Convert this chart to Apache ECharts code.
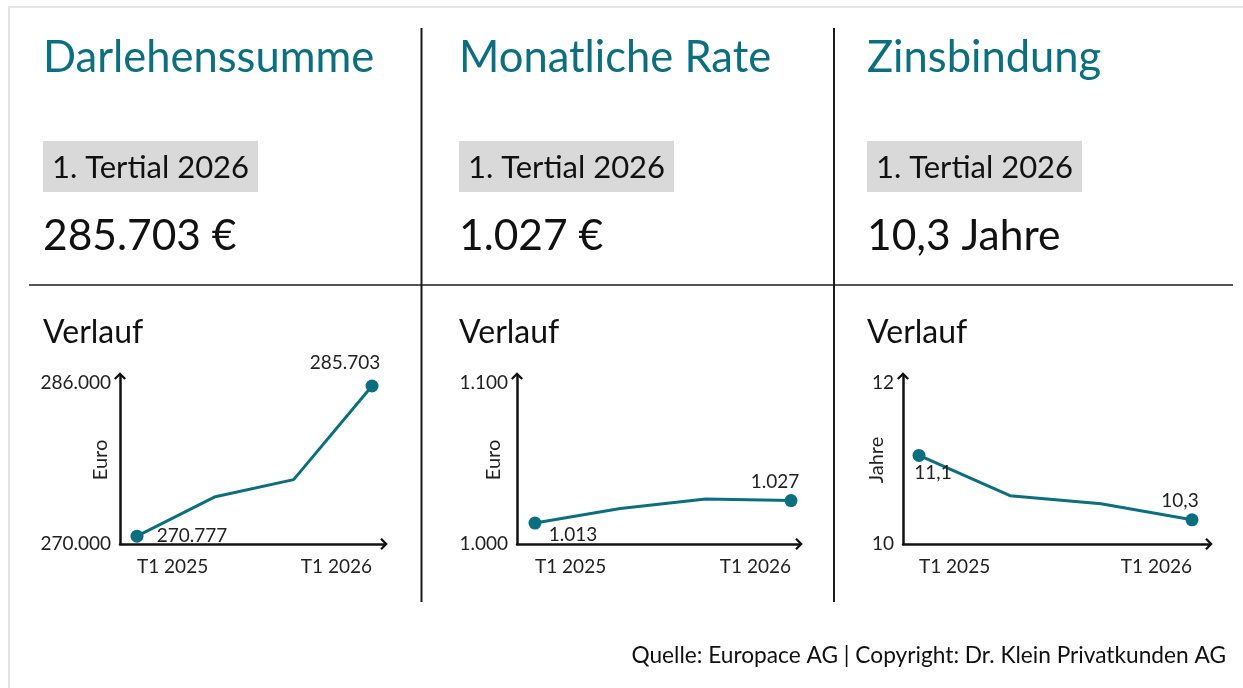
<!DOCTYPE html>
<html>
<head>
<meta charset="utf-8">
<title>Trendindikator Baufinanzierung</title>
<script src="https://cdn.jsdelivr.net/npm/echarts@6.0.0/dist/echarts.min.js"></script>
<style>
  html, body { margin: 0; padding: 0; background: #fff; }
  #main { width: 1243px; height: 688px; }
</style>
</head>
<body>
<div id="main"></div>
<script>
// --- data ---
var categories = ['T1 2025', 'T2 2025', 'T3 2025', 'T1 2026'];
var darlehenssumme = [270777, 274700, 276400, 285703];
var monatlicheRate = [1013, 1022, 1028, 1027];
var zinsbindung = [11.1, 10.6, 10.5, 10.3];

var panelTitles = ['Darlehenssumme', 'Monatliche Rate', 'Zinsbindung'];
var currentValues = ['285.703 €', '1.027 €', '10,3 Jahre'];
var periodLabel = '1. Tertial 2026';
var historyLabel = 'Verlauf';
var axisNames = ['Euro', 'Euro', 'Jahre'];
var yAxisTicks = [[270000, 286000], [1000, 1100], [10, 12]];
var sourceText = 'Quelle: Europace AG | Copyright: Dr. Klein Privatkunden AG';

// --- layout ---
var teal = '#0b6f7f';
var font = 'Lato, "Noto Sans", sans-serif';

var panels = [
  { values: darlehenssumme, decimals: 0, left: 43, axisX: 120, firstX: 137, lastX: 372, endX: 384, nameGap: 9,
    labelOffsets: [[55, 0], [-27, -23]] },
  { values: monatlicheRate, decimals: 0, left: 459, axisX: 517, firstX: 535, lastX: 791, endX: 799, nameGap: 13,
    labelOffsets: [[38, 12], [-16, -19]] },
  { values: zinsbindung, decimals: 1, left: 867, axisX: 903, firstX: 919, lastX: 1192, endX: 1209, nameGap: 16,
    labelOffsets: [[14, 17], [-12, -19]] }
];

var gridTop = 376;      // end of y axis line
var tickTop = 383;      // position of upper tick label
var gridBottom = 544;   // x axis line

var arrow = 'path://M6,0 L12,6 L10.4,7.6 L6,3.2 L1.6,7.6 L0,6 Z';

function fmt(v, dec) {
  var parts = Number(v).toFixed(dec).split('.');
  var intPart = parts[0].replace(/\B(?=(\d{3})+(?!\d))/g, '.');
  return dec ? intPart + ',' + parts[1] : intPart;
}

var grids = [], xAxes = [], yAxes = [], series = [], graphics = [];

// frame and separators
graphics.push({ type: 'rect', shape: { x: 9, y: 7, width: 1300, height: 800 },
  style: { fill: 'none', stroke: '#dcdcdc', lineWidth: 1.5 } });
graphics.push({ type: 'line', shape: { x1: 29, y1: 285, x2: 1233, y2: 285 },
  style: { stroke: '#555', lineWidth: 2 } });
[421.5, 834].forEach(function (x) {
  graphics.push({ type: 'line', shape: { x1: x, y1: 28, x2: x, y2: 602 },
    style: { stroke: '#1a1a1a', lineWidth: 2 } });
});

panels.forEach(function (p, i) {
  var n = p.values.length;
  var step = (p.lastX - p.firstX) / (n - 1);
  var lo = yAxisTicks[i][0], hi = yAxisTicks[i][1];

  // header texts
  graphics.push({ type: 'text', x: p.left, y: 58,
    style: { text: panelTitles[i], fill: teal, fontSize: 43.5, fontFamily: font, verticalAlign: 'middle' } });
  graphics.push({ type: 'rect', shape: { x: p.left, y: 141, width: 215, height: 51 },
    style: { fill: '#d9d9d9' } });
  graphics.push({ type: 'text', x: p.left + 9, y: 168,
    style: { text: periodLabel, fill: '#111', fontSize: 31, fontFamily: font, verticalAlign: 'middle' } });
  graphics.push({ type: 'text', x: p.left, y: 236,
    style: { text: currentValues[i], fill: '#111', fontSize: 42.5, fontFamily: font, verticalAlign: 'middle' } });
  graphics.push({ type: 'text', x: p.left, y: 333,
    style: { text: historyLabel, fill: '#111', fontSize: 32, fontFamily: font, verticalAlign: 'middle' } });

  grids.push({ left: p.axisX, top: gridTop, width: p.endX - p.axisX, height: gridBottom - gridTop,
    containLabel: false, outerBoundsMode: 'none' });

  xAxes.push({
    type: 'value', gridIndex: i,
    min: -(p.firstX - p.axisX) / step,
    max: (n - 1) + (p.endX - p.lastX) / step,
    axisLine: { show: true, onZero: false, symbol: ['none', arrow], symbolSize: [12, 7.6],
      lineStyle: { color: '#111', width: 2.5 } },
    axisTick: { show: false },
    splitLine: { show: false },
    axisLabel: {
      customValues: [0, n - 1],
      formatter: function (v) { return categories[Math.round(v)]; },
      alignMinLabel: 'left', alignMaxLabel: 'right',
      margin: 13, fontSize: 19, color: '#222', fontFamily: font
    }
  });

  yAxes.push({
    type: 'value', gridIndex: i,
    min: lo, interval: hi - lo,
    max: hi + (tickTop - gridTop) / (gridBottom - tickTop) * (hi - lo),
    axisLine: { show: true, onZero: false, symbol: ['none', arrow], symbolSize: [12, 7.6],
      lineStyle: { color: '#111', width: 2.5 } },
    axisTick: { show: false },
    splitLine: { show: false },
    axisLabel: { showMaxLabel: false, margin: 9, fontSize: 19, color: '#222', fontFamily: font,
      formatter: function (v) { return fmt(v, 0); } },
    name: axisNames[i], nameLocation: 'middle', nameGap: p.nameGap, nameRotate: 90,
    nameMoveOverlap: false,
    nameTextStyle: { fontSize: 20, color: '#222', fontFamily: font }
  });

  series.push({
    type: 'line', xAxisIndex: i, yAxisIndex: i,
    lineStyle: { color: teal, width: 3 },
    itemStyle: { color: teal },
    symbol: 'circle', symbolSize: 13,
    data: p.values.map(function (v, k) {
      var item = { value: [k, v] };
      var end = k === 0 ? 0 : (k === n - 1 ? 1 : -1);
      if (end < 0) {
        item.symbol = 'none';
        item.label = { show: false };
      } else {
        item.label = { show: true, position: 'inside', offset: p.labelOffsets[end],
          formatter: fmt(v, p.decimals), fontSize: 19, color: '#222', fontFamily: font };
      }
      return item;
    })
  });
});

graphics.push({ type: 'text', x: 1226, y: 656,
  style: { text: sourceText, fill: '#111', fontSize: 22.7, fontFamily: font, align: 'right', verticalAlign: 'middle' } });

var myChart = echarts.init(document.getElementById('main'), null, { renderer: 'canvas' });
myChart.setOption({
  animation: false,
  backgroundColor: '#fff',
  grid: grids,
  xAxis: xAxes,
  yAxis: yAxes,
  series: series,
  graphic: graphics
});
</script>
</body>
</html>
